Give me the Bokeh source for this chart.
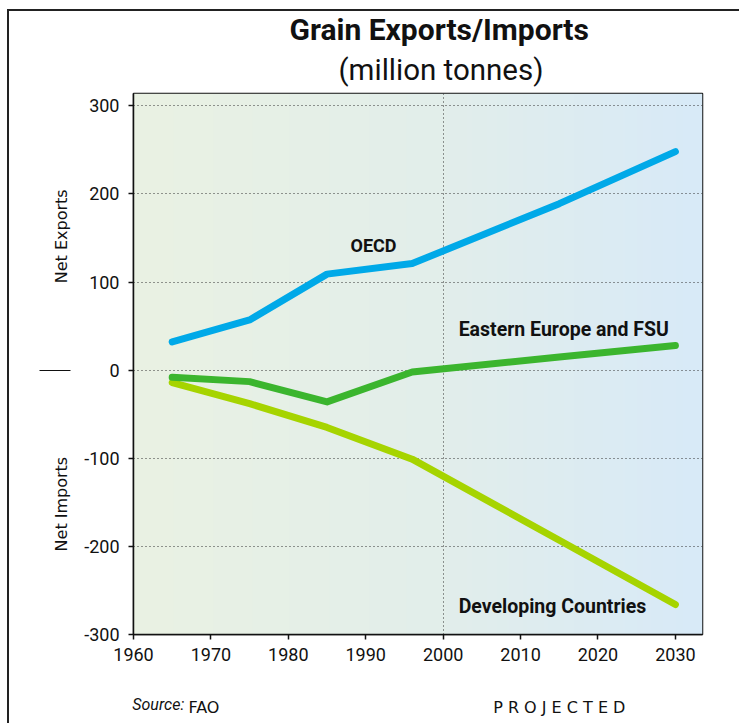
import numpy as np
from bokeh.plotting import figure
from bokeh.models import (Range1d, Label, FixedTicker, LinearAxis, Title, PrintfTickFormatter)
from bokeh.embed import file_html
from bokeh.resources import INLINE

# ---- data (million tonnes) ----
years = [1965, 1975, 1985, 1996, 2015, 2030]
oecd = [32, 57, 109, 121, 189, 248]
eastern_europe_fsu = [-8, -13, -36, -2, 15, 28]
developing = [-14, -38, -65, -101, -193, -266]

x_ticks = [1960, 1970, 1980, 1990, 2000, 2010, 2020, 2030]
y_ticks = [-300, -200, -100, 0, 100, 200, 300]

title_text = "Grain Exports/Imports"
subtitle_text = "(million tonnes)"
exports_label = "Net Exports"
imports_label = "Net Imports"
source_label = "Source:"
source_name = "FAO"
projected_label = "P R O J E C T E D"

X0, X1 = 1960, 2033.5
Y0, Y1 = -300, 314

FONT = "Roboto"
INK = "#111111"

p = figure(width=732, height=714, output_backend="svg", toolbar_location=None, title=None,
           x_range=Range1d(X0, X1), y_range=Range1d(Y0, Y1),
           min_border_left=124, min_border_right=39, min_border_top=82, min_border_bottom=91)
p.styles = {"margin-left": "7px", "margin-top": "9px",
            "border-left": "2px solid #222222", "border-top": "2px solid #222222"}
p.background_fill_color = "white"
p.border_fill_color = "white"
p.outline_line_color = INK
p.outline_line_width = 1.5

# background gradient (green-ish left -> light blue right)
ncol = 200
c_left = np.array([234, 242, 227])
c_mid = np.array([226, 238, 235])
c_right = np.array([216, 234, 248])
t = np.linspace(0, 1, ncol)
cols = np.where(t[:, None] < 0.55,
                c_left + (c_mid - c_left) * (t[:, None] / 0.55),
                c_mid + (c_right - c_mid) * ((t[:, None] - 0.55) / 0.45))
img = np.zeros((2, ncol), dtype=np.uint32)
view = img.view(dtype=np.uint8).reshape((2, ncol, 4))
view[:, :, 0] = cols[:, 0].astype(np.uint8)
view[:, :, 1] = cols[:, 1].astype(np.uint8)
view[:, :, 2] = cols[:, 2].astype(np.uint8)
view[:, :, 3] = 255
p.image_rgba(image=[img], x=X0, y=Y0, dw=X1 - X0, dh=Y1 - Y0, level="image")

# grids
p.ygrid.ticker = FixedTicker(ticks=[-200, -100, 0, 100, 200, 300])
p.xgrid.ticker = FixedTicker(ticks=[2000])
for g in (p.xgrid[0], p.ygrid[0]):
    g.grid_line_color = "#333333"
    g.grid_line_dash = "1 3"
    g.grid_line_width = 1

# main axes
for ax in (p.xaxis[0], p.yaxis[0]):
    ax.axis_line_color = INK
    ax.axis_line_width = 1.5
    ax.major_tick_line_color = INK
    ax.major_tick_line_width = 1.5
    ax.major_tick_out = 5
    ax.major_tick_in = 0
    ax.minor_tick_line_color = None
    ax.major_label_text_font = FONT
    ax.major_label_text_font_size = "18px"
    ax.major_label_text_color = INK
    ax.formatter = PrintfTickFormatter(format="%d")
p.xaxis.ticker = FixedTicker(ticks=x_ticks)
p.yaxis.ticker = FixedTicker(ticks=y_ticks)
p.xaxis.major_label_standoff = 8
p.yaxis.major_label_standoff = 9

# lines
p.line(years, developing, line_color="#a6d400", line_width=7, line_cap="round", line_join="round")
p.line(years, eastern_europe_fsu, line_color="#3bb52e", line_width=7, line_cap="round", line_join="round")
p.line(years, oecd, line_color="#00a9e8", line_width=7, line_cap="round", line_join="round")

# line labels
for lx, ly, txt, al, fs in [(1991, 141, "OECD", "center", "18px"),
                            (2002, 46, "Eastern Europe and FSU", "left", "19.5px"),
                            (2002, -268, "Developing Countries", "left", "19.5px")]:
    p.add_layout(Label(x=lx, y=ly, text=txt, text_font=FONT, text_font_style="bold",
                       text_font_size=fs, text_align=al, text_baseline="middle", text_color=INK))

# titles (above)
p.add_layout(Title(text=subtitle_text, text_font=FONT, text_font_size="29.5px", text_font_style="normal",
                   text_color=INK, align="left", offset=205, standoff=14), "above")
p.add_layout(Title(text=title_text, text_font=FONT, text_font_size="30px", text_font_style="bold",
                   text_color=INK, align="left", offset=156, standoff=-7), "above")

# left captions + separator mark, as an extra (unlined) axis
cap = LinearAxis(ticker=FixedTicker(ticks=[-152, 152], minor_ticks=[0]),
                 major_label_overrides={152: exports_label, -152: imports_label})
cap.axis_line_color = None
cap.major_tick_line_color = None
cap.major_tick_out = 0
cap.major_tick_in = 0
cap.minor_tick_line_color = INK
cap.minor_tick_line_width = 1
cap.minor_tick_out = 42
cap.minor_tick_in = -11
cap.major_label_orientation = "parallel"
cap.major_label_standoff = -32
cap.major_label_text_font = "DejaVu Sans"
cap.major_label_text_font_size = "16px"
cap.major_label_text_color = INK
p.add_layout(cap, "left")

# bottom notes as extra (unlined) axes
def note_axis(ticks, labels, font, style, size, standoff):
    a = LinearAxis(ticker=FixedTicker(ticks=ticks), major_label_overrides=dict(zip(ticks, labels)))
    a.axis_line_color = None
    a.major_tick_line_color = None
    a.minor_tick_line_color = None
    a.major_tick_out = 0
    a.major_tick_in = 0
    a.major_label_standoff = standoff
    a.major_label_text_font = font
    a.major_label_text_font_style = style
    a.major_label_text_font_size = size
    a.major_label_text_color = INK
    p.add_layout(a, "below")
    return a

note_axis([1963.2], [source_label], FONT, "italic", "16px", 31)
note_axis([1969.1, 2015.0], [source_name, projected_label], "DejaVu Sans", "normal", "16px", -19)

open("out.html", "w").write(file_html(p, INLINE))
